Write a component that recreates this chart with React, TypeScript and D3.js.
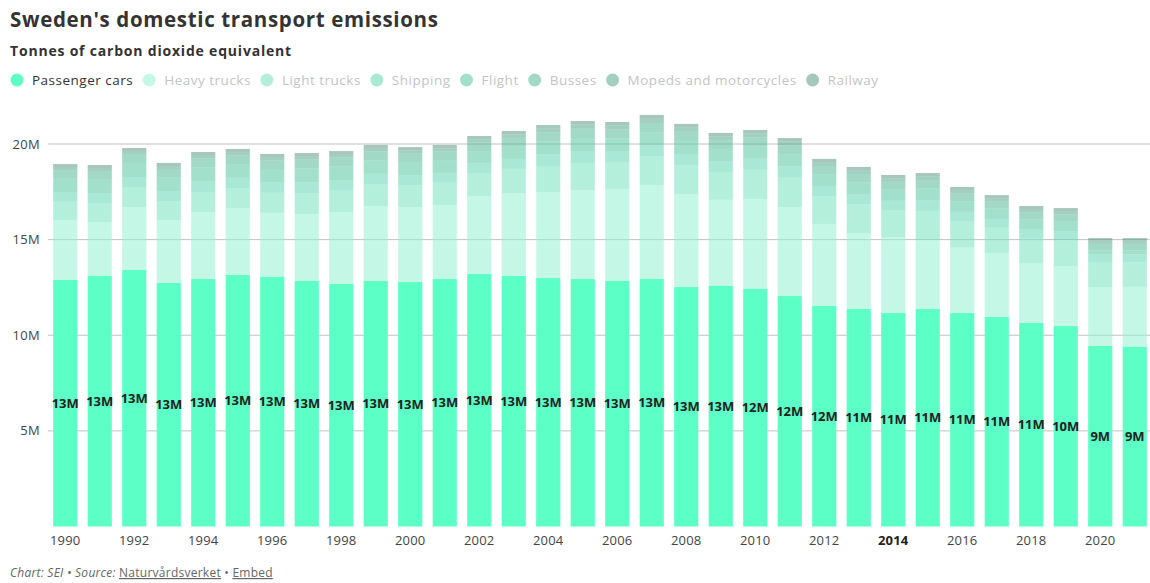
import React, { useEffect, useRef } from "react";
import * as d3 from "d3";

const years = [1990,1991,1992,1993,1994,1995,1996,1997,1998,1999,2000,2001,2002,2003,2004,2005,2006,2007,2008,2009,2010,2011,2012,2013,2014,2015,2016,2017,2018,2019,2020,2021];

// values in millions of tonnes CO2e
const passengerCars = [12.89,13.10,13.41,12.73,12.94,13.15,13.05,12.84,12.68,12.84,12.78,12.94,13.20,13.10,12.99,12.94,12.84,12.94,12.52,12.58,12.42,12.05,11.53,11.37,11.16,11.37,11.16,10.95,10.64,10.48,9.44,9.39];
const heavyTrucks = [3.14,2.82,3.29,3.29,3.50,3.50,3.35,3.50,3.76,3.92,3.92,3.87,4.08,4.34,4.50,4.65,4.81,4.92,4.86,4.50,4.71,4.65,4.29,3.97,3.97,3.61,3.45,3.35,3.14,3.14,3.08,3.14];
const lightTrucks = [0.95,0.98,1.02,1.00,1.05,1.04,1.05,1.10,1.12,1.14,1.15,1.17,1.20,1.26,1.36,1.42,1.40,1.48,1.50,1.46,1.52,1.54,1.46,1.50,1.40,1.52,1.36,1.32,1.30,1.34,1.28,1.28];
const shipping = [0.50,0.52,0.55,0.52,0.56,0.54,0.54,0.56,0.55,0.54,0.52,0.51,0.50,0.52,0.60,0.62,0.58,0.60,0.60,0.56,0.58,0.58,0.52,0.54,0.50,0.56,0.48,0.46,0.45,0.46,0.42,0.42];
const flight = [0.70,0.71,0.74,0.70,0.74,0.72,0.70,0.72,0.71,0.70,0.68,0.67,0.65,0.64,0.67,0.68,0.66,0.68,0.68,0.64,0.65,0.64,0.62,0.62,0.58,0.62,0.56,0.54,0.52,0.52,0.22,0.21];
const busses = [0.45,0.45,0.46,0.45,0.46,0.46,0.46,0.47,0.47,0.47,0.46,0.46,0.45,0.46,0.48,0.49,0.47,0.48,0.48,0.46,0.46,0.46,0.43,0.43,0.41,0.43,0.40,0.38,0.38,0.38,0.34,0.34];
const mopeds = [0.12,0.12,0.12,0.12,0.13,0.13,0.13,0.14,0.14,0.14,0.14,0.15,0.16,0.18,0.20,0.21,0.21,0.22,0.22,0.20,0.21,0.21,0.20,0.20,0.19,0.20,0.18,0.17,0.17,0.17,0.16,0.16];
const railway = [0.20,0.20,0.20,0.20,0.20,0.20,0.20,0.20,0.20,0.20,0.19,0.18,0.18,0.18,0.19,0.19,0.18,0.20,0.19,0.18,0.18,0.18,0.17,0.17,0.17,0.17,0.16,0.16,0.16,0.16,0.14,0.14];

const seriesNames = ["Passenger cars","Heavy trucks","Light trucks","Shipping","Flight","Busses","Mopeds and motorcycles","Railway"];
const seriesValues = [passengerCars, heavyTrucks, lightTrucks, shipping, flight, busses, mopeds, railway];
const seriesColors = ["#5cffc6","rgb(148,240,210)","rgb(119,226,191)","rgb(99,213,177)","rgb(88,199,162)","rgb(86,184,151)","rgb(88,168,140)","rgb(93,153,131)"];
const seriesOpacity = [1,0.55,0.55,0.55,0.55,0.55,0.55,0.55];

const yTicks = [5,10,15,20];
const yTickLabels = ["5M","10M","15M","20M"];
const xTickYears = [1990,1992,1994,1996,1998,2000,2002,2004,2006,2008,2010,2012,2014,2016,2018,2020];
const highlightYear = 2014;

const W = 1150, H = 583;
const FONT = "'Open Sans', 'DejaVu Sans', sans-serif";

export default function App() {
  const ref = useRef<SVGSVGElement>(null);
  useEffect(() => {
    document.body.style.margin = "0";
    const svg = d3.select(ref.current);
    svg.selectAll("*").remove();

    const x = d3.scaleBand<number>().domain(years).range([48, 1152]).paddingInner(0.3).paddingOuter(0.15);
    const y = d3.scaleLinear().domain([0, 20]).range([526.5, 144]);

    const rows = years.map((yr, i) => {
      const o: any = { year: yr };
      seriesNames.forEach((n, k) => (o[n] = seriesValues[k][i]));
      return o;
    });
    const stack = d3.stack<any>().keys(seriesNames)(rows);

    // title
    svg.append("text").attr("x", 10).attr("y", 27).attr("font-family", FONT).attr("font-weight", 700)
      .attr("font-size", 20.5).attr("letter-spacing", 0.65).attr("fill", "#333").text("Sweden's domestic transport emissions");
    svg.append("text").attr("x", 10).attr("y", 56).attr("font-family", FONT).attr("font-weight", 700)
      .attr("font-size", 14).attr("letter-spacing", 0.8).attr("fill", "#333").text("Tonnes of carbon dioxide equivalent");

    // legend
    let lx = 10;
    seriesNames.forEach((n, k) => {
      const g = svg.append("g");
      g.append("circle").attr("cx", lx + 7).attr("cy", 80).attr("r", 6.5)
        .attr("fill", seriesColors[k]).attr("fill-opacity", k === 0 ? 1 : 0.55);
      const t = g.append("text").attr("x", lx + 22).attr("y", 84.5).attr("font-family", FONT)
        .attr("font-size", 13.5).attr("letter-spacing", 0.5).attr("fill", k === 0 ? "#333" : "#c4c4c4").text(n);
      const w = (t.node() as SVGTextElement).getComputedTextLength();
      lx = lx + 22 + w + 9;
    });

    // gridlines
    svg.append("g").selectAll("line").data(yTicks).join("line")
      .attr("x1", 48).attr("x2", W).attr("y1", (d) => y(d)).attr("y2", (d) => y(d))
      .attr("stroke", "#c2c2c2").attr("stroke-width", 1);
    svg.append("g").selectAll("text").data(yTicks).join("text")
      .attr("x", 40).attr("y", (d) => y(d)).attr("dy", "0.35em").attr("text-anchor", "end")
      .attr("font-family", FONT).attr("font-size", 13).attr("letter-spacing", 0.3).attr("fill", "#444")
      .text((d, i) => yTickLabels[i]);

    // bars
    stack.forEach((layer, k) => {
      svg.append("g").selectAll("rect").data(layer).join("rect")
        .attr("x", (d: any) => x(d.data.year)!)
        .attr("width", x.bandwidth())
        .attr("y", (d: any) => y(d[1]))
        .attr("height", (d: any) => y(d[0]) - y(d[1]))
        .attr("fill", seriesColors[k]).attr("fill-opacity", seriesOpacity[k]);
    });

    // labels on passenger cars
    svg.append("g").selectAll("text").data(years).join("text")
      .attr("x", (d) => x(d)! + x.bandwidth() / 2)
      .attr("y", (d, i) => (y(0) + y(passengerCars[i])) / 2)
      .attr("dy", "0.35em").attr("text-anchor", "middle")
      .attr("font-family", FONT).attr("font-weight", 700).attr("font-size", 13).attr("fill", "#222")
      .text((d, i) => `${Math.round(passengerCars[i])}M`);

    // x axis labels
    svg.append("g").selectAll("text").data(xTickYears).join("text")
      .attr("x", (d) => x(d)! + x.bandwidth() / 2)
      .attr("y", 545).attr("text-anchor", "middle")
      .attr("font-family", FONT).attr("font-size", 13).attr("letter-spacing", 0.2)
      .attr("font-weight", (d) => (d === highlightYear ? 700 : 400))
      .attr("fill", (d) => (d === highlightYear ? "#222" : "#444"))
      .text((d) => String(d));

    // footer
    const f = svg.append("text").attr("x", 10).attr("y", 577).attr("font-family", FONT)
      .attr("font-size", 12).attr("letter-spacing", 0.25).attr("fill", "#666");
    f.append("tspan").attr("font-style", "italic").text("Chart: SEI • Source: ");
    f.append("tspan").attr("text-decoration", "underline").text("Naturvårdsverket");
    f.append("tspan").text(" • ");
    f.append("tspan").attr("text-decoration", "underline").text("Embed");
  }, []);
  return <svg ref={ref} width={W} height={H} style={{ display: "block", background: "#fff" }} />;
}
